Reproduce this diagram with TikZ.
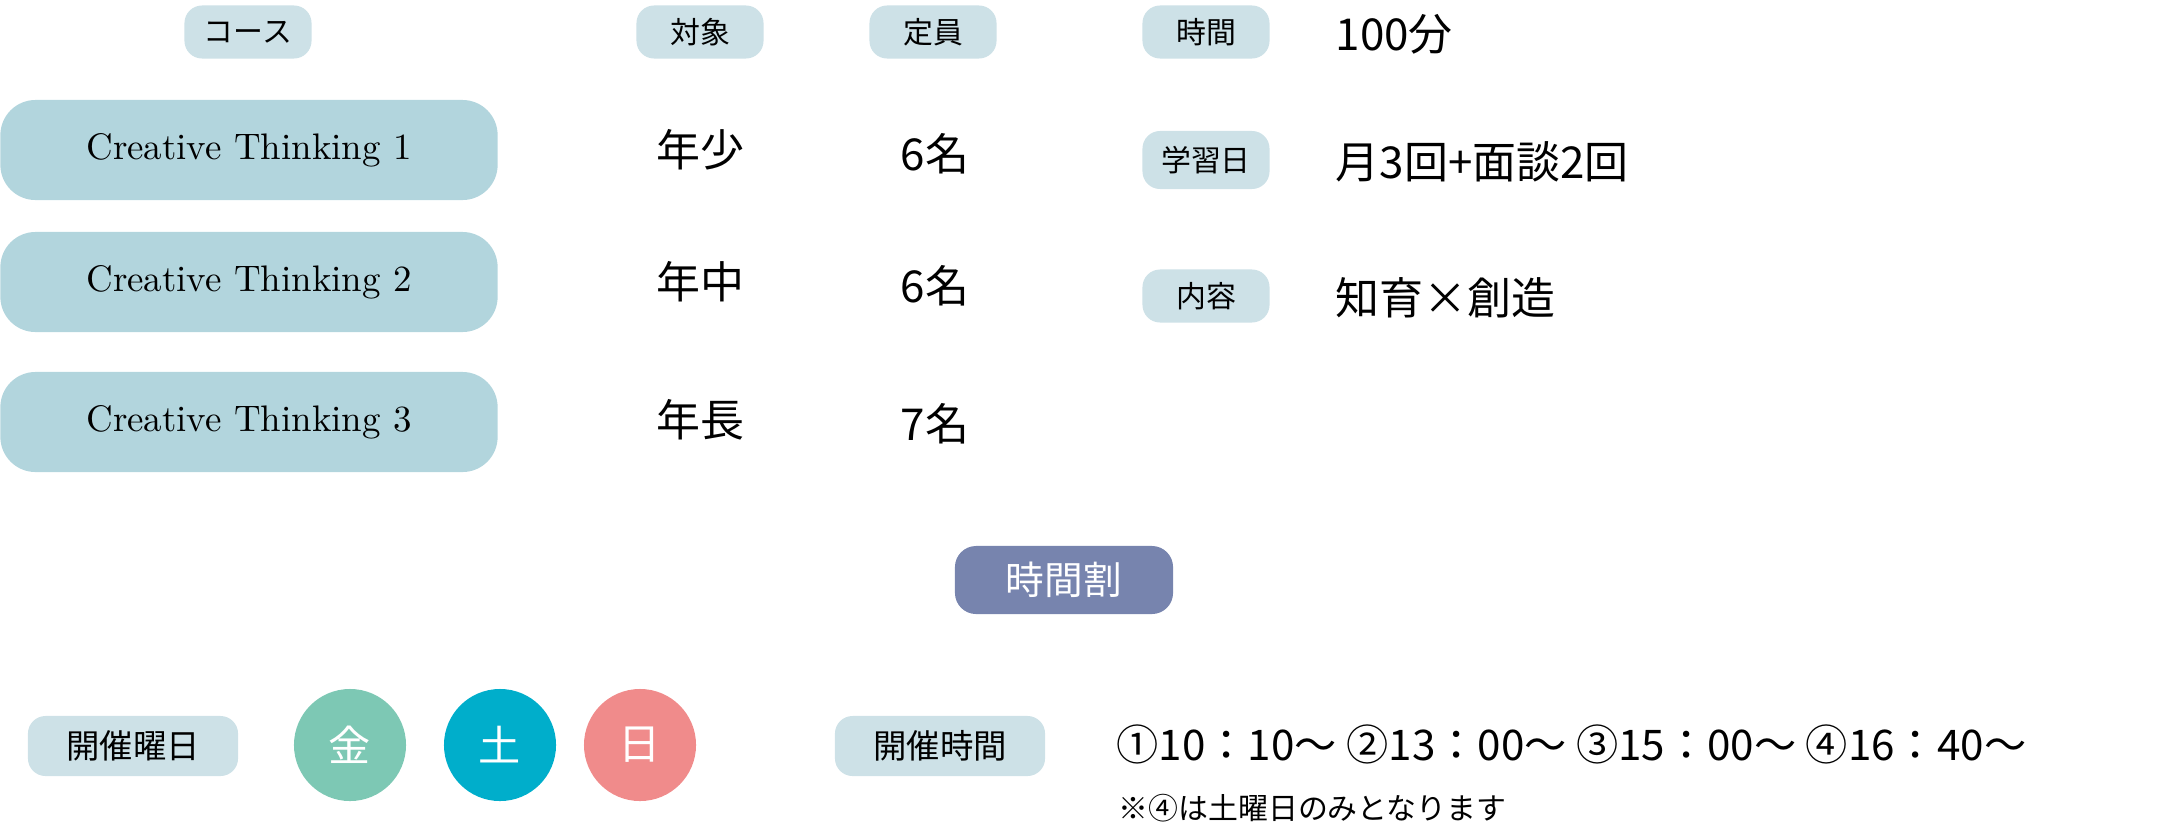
\documentclass[tikz,border=0pt]{standalone}
\usepackage{fontspec}
\setmainfont{Noto Sans CJK JP}
\newfontfamily\serifen{Latin Modern Roman}
\definecolor{labc}{HTML}{CDE1E7}
\definecolor{coursec}{HTML}{B2D5DD}
\definecolor{ttc}{HTML}{7784AE}
\definecolor{bg}{HTML}{7DC8B4}\definecolor{bb}{HTML}{00AECB}\definecolor{bp}{HTML}{F08B8B}
\begin{document}
\begin{tikzpicture}[x=0.01cm,y=-0.01cm,
 lab/.style={fill=labc,rounded corners=5pt,inner sep=0pt,font=\fontsize{8.5pt}{9pt}\selectfont},
 course/.style={fill=coursec,rounded corners=10pt,minimum width=4.97cm,minimum height=1cm,font=\serifen\fontsize{10.5pt}{11pt}\selectfont},
 txt/.style={font=\fontsize{12.5pt}{13pt}\selectfont,inner sep=0pt},
 blob/.style={circle,minimum size=1.12cm,inner sep=0pt,text=white,font=\fontsize{12pt}{12pt}\selectfont}]
\useasboundingbox (0,0) rectangle (2173,833);
\node[lab,minimum width=1.27cm,minimum height=0.53cm] (l1) at (248,32) {コース};
\node[lab,minimum width=1.27cm,minimum height=0.53cm] (l2) at (700,32) {対象};
\node[lab,minimum width=1.27cm,minimum height=0.53cm] (l3) at (933,32) {定員};
\node[lab,minimum width=1.27cm,minimum height=0.53cm] (l4) at (1206,32) {時間};
\node[lab,minimum width=1.27cm,minimum height=0.58cm] (l5) at (1206,160) {学習日};
\node[lab,minimum width=1.27cm,minimum height=0.53cm] (l6) at (1206,296) {内容};
\node[txt,anchor=west] (v4) at (1335,34) {100分};
\node[txt,anchor=west] (v5) at (1335,162) {月3回+面談2回};
\node[txt,anchor=west] (v6) at (1335,298) {知育×創造};
\node[course] (c1) at (249,150) {Creative Thinking 1};
\node[course] (c2) at (249,282) {Creative Thinking 2};
\node[course] (c3) at (249,422) {Creative Thinking 3};
\node[txt] (a1) at (700,150) {年少};
\node[txt] (a2) at (700,282) {年中};
\node[txt] (a3) at (700,420) {年長};
\node[txt] (n1) at (935,154) {6名};
\node[txt] (n2) at (935,286) {6名};
\node[txt] (n3) at (935,424) {7名};
\node[fill=ttc,rounded corners=6pt,minimum width=2.18cm,minimum height=0.68cm,text=white,font=\fontsize{11pt}{11pt}\selectfont] (tt) at (1064,580) {時間割};
\node[lab,minimum width=2.1cm,minimum height=0.6cm,font=\fontsize{9.5pt}{10pt}\selectfont] (d) at (133,746) {開催曜日};
\node[blob,fill=bg] (k) at (350,745) {金};
\node[blob,fill=bb] (s) at (500,745) {土};
\node[blob,fill=bp] (h) at (640,745) {日};
\node[lab,minimum width=2.1cm,minimum height=0.6cm,font=\fontsize{9.5pt}{10pt}\selectfont] (t) at (940,746) {開催時間};
\node[txt,anchor=west,font=\fontsize{12pt}{12pt}\selectfont] (tm) at (1116,744) {①10：10〜 ②13：00〜 ③15：00〜 ④16：40〜};
\node[txt,anchor=west,font=\fontsize{8.5pt}{9pt}\selectfont] (nt) at (1118,808) {※④は土曜日のみとなります};
\end{tikzpicture}
\end{document}
